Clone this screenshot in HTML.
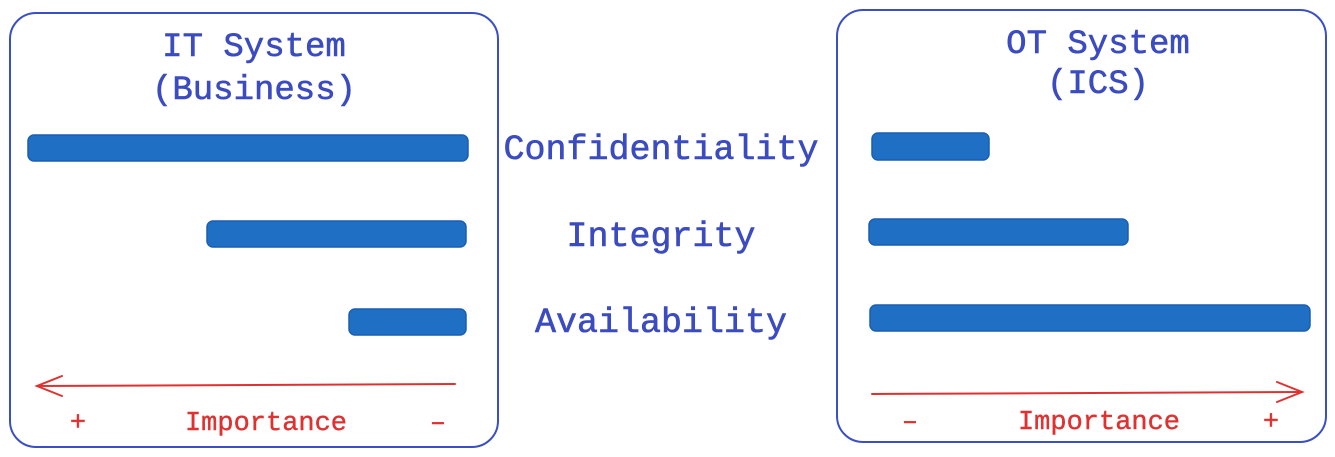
<!DOCTYPE html>
<html><head><meta charset="utf-8"><style>
body{margin:0;background:#fff;}
svg{display:block}
text{font-family:"Liberation Mono",monospace;}
</style></head><body>
<svg width="1335" height="457" viewBox="0 0 1335 457" xmlns="http://www.w3.org/2000/svg">
<g fill="none" stroke="#3b4fc4" stroke-width="2">
<rect x="10" y="13" width="488" height="434" rx="26"/>
<rect x="837" y="10" width="489" height="432" rx="26"/>
</g>
<g fill="#3b4bc0" stroke="#3b4bc0" stroke-width="0.6" font-size="34" text-anchor="middle">
<text x="254" y="56">IT System</text>
<text x="254" y="99">(Business)</text>
<text x="1098" y="53">OT System</text>
<text x="1098" y="93">(ICS)</text>
</g>
<g fill="#3b4bc0" stroke="#3b4bc0" stroke-width="0.6" font-size="35" text-anchor="middle">
<text x="661" y="159">Confidentiality</text>
<text x="661" y="246">Integrity</text>
<text x="661" y="332">Availability</text>
</g>
<g fill="#1f6fc5" stroke="#1a5fb0" stroke-width="1.5">
<rect x="28" y="135" width="440" height="26" rx="6"/>
<rect x="207" y="221" width="259" height="26" rx="6"/>
<rect x="349" y="309" width="117" height="26" rx="6"/>
<rect x="872" y="133" width="117" height="27" rx="6"/>
<rect x="869" y="219" width="259" height="26" rx="6"/>
<rect x="870" y="305" width="440" height="26" rx="6"/>
</g>
<g stroke="#e03131" stroke-width="2" fill="none" stroke-linecap="round">
<path d="M455 384 L37 386"/>
<path d="M62 376 L37 386 L62 396"/>
<path d="M872 394 L1302 392"/>
<path d="M1277 382 L1302 392 L1277 402"/>
</g>
<g fill="#e03131" stroke="#e03131" stroke-width="0.4" font-size="27" text-anchor="middle">
<text x="78" y="430">+</text>
<text x="266" y="430">Importance</text>
<text x="438" y="430">–</text>
<text x="910" y="429">–</text>
<text x="1099" y="429">Importance</text>
<text x="1271" y="429">+</text>
</g>
</svg>
</body></html>
